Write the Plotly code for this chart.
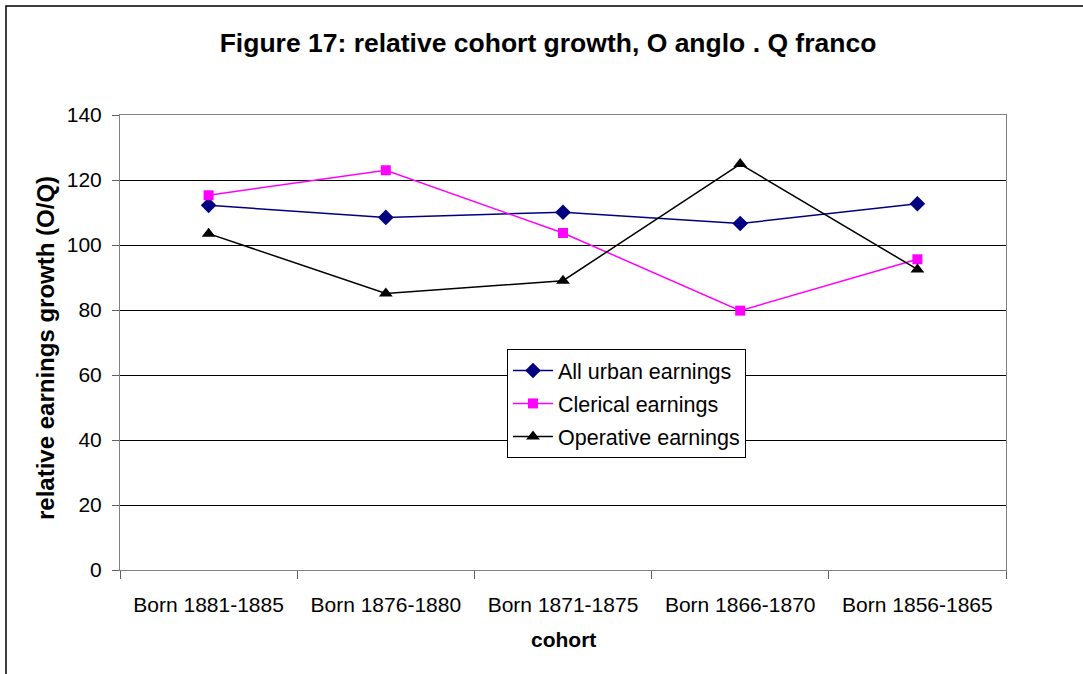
import plotly.graph_objects as go

cohorts = ["Born 1881-1885", "Born 1876-1880", "Born 1871-1875", "Born 1866-1870", "Born 1856-1865"]
all_urban = [112.2, 108.5, 110.1, 106.6, 112.7]
clerical = [115.3, 123.0, 103.7, 79.8, 95.6]
operative = [103.5, 85.1, 89.0, 124.9, 92.5]
y_ticks = [0, 20, 40, 60, 80, 100, 120, 140]

W, H = 1083, 674
L, R, T, B = 120, 1006, 115, 570

def px(x):
    return (x - L) / (R - L)

def py(y):
    return (B - y) / (B - T)

fig = go.Figure()
fig.add_trace(go.Scatter(x=cohorts, y=all_urban, name="All urban earnings", mode="lines+markers",
                         legendgroup="a",
                         line=dict(color="#000080", width=1.5),
                         marker=dict(symbol="diamond", size=12, color="#000080")))
fig.add_trace(go.Scatter(x=cohorts, y=clerical, name="Clerical earnings", mode="lines+markers",
                         legendgroup="b",
                         line=dict(color="#FF00FF", width=1.5),
                         marker=dict(symbol="square", size=10, color="#FF00FF")))
fig.add_trace(go.Scatter(x=cohorts, y=operative, name="Operative earnings", mode="lines+markers",
                         legendgroup="c",
                         line=dict(color="#000000", width=1.5),
                         marker=dict(symbol="triangle-up", size=12, color="#000000")))

font_family = "Liberation Sans, Arial, sans-serif"

fig.update_layout(
    width=W, height=H,
    margin=dict(l=L, r=W - R, t=T, b=H - B),
    paper_bgcolor="white", plot_bgcolor="white",
    font=dict(family=font_family, size=21, color="black"),
    title=dict(text="<b>Figure 17: relative cohort growth, O anglo . Q franco</b>",
               x=548 / W, xref="container", xanchor="center",
               y=1 - 43 / H, yref="container", yanchor="middle",
               font=dict(size=26.5, family=font_family, color="black")),
    showlegend=True,
    legend=dict(x=px(507), y=py(349), xanchor="left", yanchor="top",
                bordercolor="black", borderwidth=1, bgcolor="white",
                font=dict(size=21.5, family=font_family), itemwidth=40,
                tracegroupgap=2),
    xaxis=dict(type="category", range=[-0.5, 4.5], showgrid=False,
               showline=True, linecolor="#808080", linewidth=1, mirror=True,
               ticks="outside", tickson="boundaries", ticklen=8, tickcolor="#606060",
               ticklabelstandoff=16, tickfont=dict(size=21)),
    yaxis=dict(range=[0, 140], tickvals=y_ticks, showgrid=True, gridcolor="black", gridwidth=1,
               zeroline=False, showline=True, linecolor="#808080", linewidth=1, mirror=True,
               ticks="outside", ticklen=7, tickcolor="#606060", ticklabelstandoff=6,
               tickfont=dict(size=21)),
    annotations=[
        dict(text="<b>relative earnings growth (O/Q)</b>", x=px(45), y=py(348), xref="paper", yref="paper",
             textangle=-90, showarrow=False, xanchor="center", yanchor="middle", font=dict(size=24)),
        dict(text="<b>cohort</b>", x=px(563), y=py(639), xref="paper", yref="paper",
             showarrow=False, xanchor="center", yanchor="middle", font=dict(size=21)),
    ],
    shapes=[
        dict(type="rect", xref="paper", yref="paper", x0=px(6), y0=py(700), x1=px(1100), y1=py(6),
             line=dict(color="black", width=1.5), fillcolor="rgba(0,0,0,0)", layer="below"),
    ],
)

fig.write_html("out.html", config={"displayModeBar": False},
               post_script="document.body.style.margin='0';document.body.style.overflow='hidden';")
